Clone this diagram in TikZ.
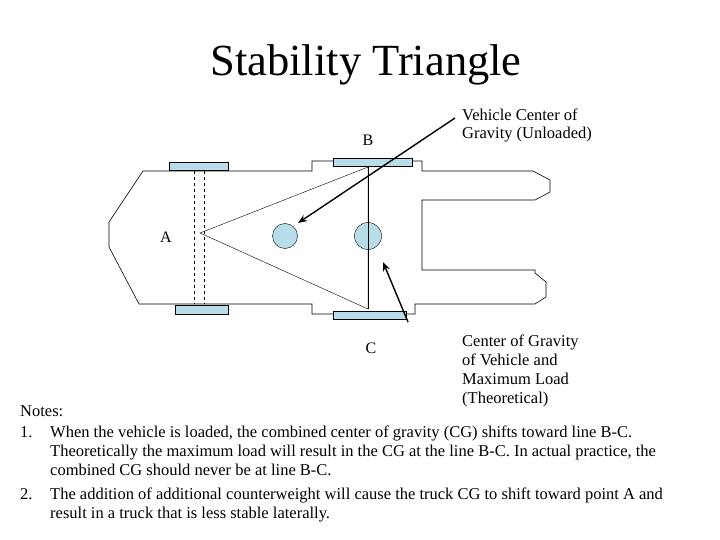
\documentclass[tikz,border=0pt]{standalone}
\usepackage{fontspec}
\setmainfont{Liberation Serif}
\usetikzlibrary{arrows.meta}
\definecolor{wheel}{HTML}{B7DDE8}
\begin{document}
\begin{tikzpicture}[x=1pt,y=-1pt,
  txt/.style={anchor=base west,inner sep=0pt,font=\fontsize{16.5}{19}\selectfont},
  lbl/.style={inner sep=0pt,font=\fontsize{16}{18}\selectfont},
  wh/.style={draw,fill=wheel},
  body/.style={draw,line width=0.6pt},
  arr/.style={draw,line width=1.4pt,-{Stealth[length=9pt,width=7pt]}}]
\useasboundingbox (0,0) rectangle (720,540);
\node[font=\fontsize{44.5}{48}\selectfont,inner sep=0pt] (title) at (366,65) {Stability Triangle};
% body
\draw[body] (143,171) -- (109,222) -- (109,247) -- (139,304) -- (312,304) -- (312,314) -- (415,314) -- (415,304)
  -- (535,304) -- (546,297) -- (546,282) -- (535,273) -- (535,270) -- (422,270) -- (422,200) -- (535,200)
  -- (550,192) -- (550,180) -- (533,171) -- (422,171) -- (422,161) -- (312,161) -- (312,171) -- cycle;
\draw[dashed] (194,171) -- (194,304) (204,171) -- (204,304);
\node[wh,minimum width=59,minimum height=8,inner sep=0] (w1) at (198.5,166) {};
\node[wh,minimum width=53,minimum height=9,inner sep=0] (w2) at (201.5,309.5) {};
\node[wh,minimum width=79,minimum height=8,inner sep=0] (w3) at (372.5,162) {};
\node[wh,minimum width=73,minimum height=8,inner sep=0] (w4) at (369.5,315) {};
\coordinate (A) at (200,233);
\coordinate (B) at (368,167);
\coordinate (C) at (368,309);
\draw (A) -- (B) -- (C) -- cycle;
\node[draw,fill=wheel,circle,minimum size=25,inner sep=0] (cg1) at (285,236) {};
\node[draw,fill=wheel,circle,minimum size=27,inner sep=0] (cg2) at (368,236) {};
\draw (B) -- (C);
\node[lbl] (lA) at (166,237) {A};
\node[lbl] (lB) at (368,140) {B};
\node[lbl] (lC) at (371,348) {C};
\coordinate (t1) at (455,118);
\coordinate (h1) at (298,223);
\coordinate (t2) at (408,322);
\coordinate (h2) at (383,262);
\draw[arr] (t1) -- (h1);
\draw[arr] (t2) -- (h2);
\node[txt] (v1) at (462,121) {Vehicle Center of};
\node[txt] (v2) at (462,139) {Gravity (Unloaded)};
\node[txt] (c1) at (462,346) {Center of Gravity};
\node[txt] (c2) at (462,365) {of Vehicle and};
\node[txt] (c3) at (462,384) {Maximum Load};
\node[txt] (c4) at (462,403) {(Theoretical)};
\node[txt] (n0) at (20,416) {Notes:};
\node[txt] (n1a) at (20,437) {1.};
\node[txt] (n1) at (50,437) {When the vehicle is loaded, the combined center of gravity (CG) shifts toward line B-C.};
\node[txt] (n1b) at (50,456) {Theoretically the maximum load will result in the CG at the line B-C. In actual practice, the};
\node[txt] (n1c) at (50,475) {combined CG should never be at line B-C.};
\node[txt] (n2a) at (20,499) {2.};
\node[txt] (n2) at (50,499) {The addition of additional counterweight will cause the truck CG to shift toward point A and};
\node[txt] (n2b) at (50,518) {result in a truck that is less stable laterally.};
\end{tikzpicture}
\end{document}
